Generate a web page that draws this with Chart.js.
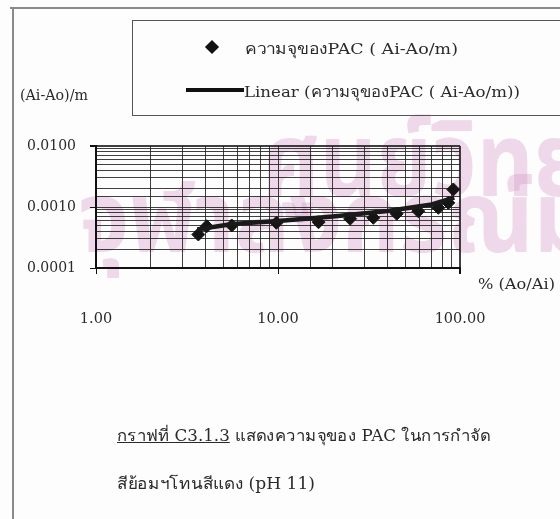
<!DOCTYPE html>
<html>
<head>
<meta charset="utf-8">
<script src="https://cdn.jsdelivr.net/npm/chart.js@4.4.1/dist/chart.umd.min.js"></script>
<style>
  html, body { margin: 0; padding: 0; background: #fdfdfd; }
  #page { position: relative; width: 560px; height: 519px; overflow: hidden; }
  #mark { position: absolute; left: 0; top: 0; width: 560px; height: 519px; z-index: 0;
          font-family: "Noto Sans Thai", "Loma", "Garuda", "Kinnari", "Norasi", sans-serif;
          color: rgba(214, 160, 205, 0.4); font-weight: bold; white-space: nowrap; }
  #mark div { position: absolute; transform-origin: left top; }
  canvas { position: absolute; left: 0; top: 0; z-index: 1; }
  .txt { position: absolute; z-index: 2; white-space: nowrap; color: #2a2a2a;
         font-family: "DejaVu Serif", "Norasi", "Kinnari", serif; transform-origin: left center; }
  #frameTop { position: absolute; left: 10px; top: 7px; width: 560px; height: 0; border-top: 2px solid #8a8a8a; z-index: 2; }
  #frameLeft { position: absolute; left: 12px; top: 7px; width: 0; height: 520px; border-left: 2px solid #8a8a8a; z-index: 2; }
  #legend { position: absolute; left: 132px; top: 20px; width: 440px; height: 94px;
            border: 1.5px solid #555; z-index: 2; background: transparent; }
  .diamond { position: absolute; width: 10px; height: 10px; background: #111; transform: rotate(45deg); }
  .lineKey { position: absolute; height: 4px; background: #111; }
</style>
</head>
<body>
<div id="page">
  <div id="mark">
    <div style="left:262px; top:86px; font-size:88px; transform: scale(1, 1.18);">ศูนย์วิทยทรัพยากร</div>
    <div style="left:78px; top:146px; font-size:92px; transform: scale(1, 1.08);">จุฬาลงกรณ์มหาวิทยาลัย</div>
  </div>
  <canvas id="chart" width="560" height="519"></canvas>
  <div id="frameTop"></div>
  <div id="frameLeft"></div>
  <div id="legend"></div>
  <div class="txt" id="yTitle" data-fit="68" style="left:20px; top:87px; font-size:14px;"></div>
  <div class="txt" id="xTitle" data-fit="77" style="left:478px; top:276px; font-size:14px;"></div>
  <div class="txt" data-fit="373" style="left:117px; top:423px; font-size:16px;">
    <span style="text-decoration: underline;">กราฟที่ C3.1.3</span> แสดงความจุของ PAC ในการกำจัด
  </div>
  <div class="txt" data-fit="198" style="left:117px; top:471px; font-size:16px;">สีย้อมฯโทนสีแดง (pH 11)</div>
</div>
<script>
// Percent removal (Ao/Ai) and adsorption capacity (Ai-Ao)/m
const removalPct = [3.65, 4.06, 5.57, 9.8, 16.7, 24.9, 33.4, 44.9, 59, 76, 86.3, 91.9];
const capacity   = [0.000354, 0.000484, 0.000498, 0.000551, 0.000564, 0.000641,
                    0.000665, 0.000774, 0.000853, 0.00097, 0.00117, 0.00194];

// Linear trend line of the capacity series
const trendPct      = [3.6, 5.6, 10, 20, 40, 70, 93];
const trendCapacity = [0.000428, 0.000526, 0.000589, 0.000698, 0.000859, 0.0011, 0.00143];

// Labelled decades on both axes
const xMajor = [1, 10, 100];
const xTickLabels = ['1.00', '10.00', '100.00'];
const yMajor = [0.0001, 0.001, 0.01];
const yTickLabels = ['0.0001', '0.0010', '0.0100'];

const seriesName = 'ความจุของPAC ( Ai-Ao/m)';
const trendName = 'Linear (ความจุของPAC ( Ai-Ao/m))';
const yAxisTitle = '(Ai-Ao)/m';
const xAxisTitle = '% (Ao/Ai)';

document.getElementById('yTitle').textContent = yAxisTitle;
document.getElementById('xTitle').textContent = xAxisTitle;

function majorIndex(list, v) {
  for (let i = 0; i < list.length; i++) {
    if (Math.abs(Math.log10(v) - Math.log10(list[i])) < 1e-6) return i;
  }
  return -1;
}

const gridColor = 'rgba(30,30,30,0.85)';

const chart = new Chart(document.getElementById('chart'), {
  type: 'scatter',
  data: {
    datasets: [
      {
        label: seriesName,
        data: removalPct.map((x, i) => ({ x: x, y: capacity[i] })),
        pointStyle: 'rectRot',
        pointRadius: 6.5,
        backgroundColor: '#151515',
        borderColor: '#151515',
        borderWidth: 1,
        order: 2
      },
      {
        label: trendName,
        type: 'line',
        data: trendPct.map((x, i) => ({ x: x, y: trendCapacity[i] })),
        showLine: true,
        pointRadius: 0,
        borderColor: '#1a1a1a',
        borderWidth: 4.5,
        tension: 0,
        order: 1
      }
    ]
  },
  options: {
    responsive: false,
    animation: false,
    devicePixelRatio: 1,
    layout: { padding: { top: 146, right: 100, left: 0, bottom: 0 } },
    plugins: { legend: { display: false }, tooltip: { enabled: false } },
    scales: {
      x: {
        type: 'logarithmic',
        min: 1,
        max: 100,
        afterFit: s => { s.height = 251; },
        border: { display: true, color: '#111', width: 2 },
        grid: {
          color: gridColor,
          lineWidth: ctx => (ctx.tick && ctx.tick.value === 100 ? 2 : 1),
          tickLength: 6,
          tickColor: ctx => (ctx.tick && majorIndex(xMajor, ctx.tick.value) >= 0 ? '#111' : 'rgba(0,0,0,0)')
        },
        ticks: {
          autoSkip: false,
          maxRotation: 0,
          padding: 37,
          color: '#2a2a2a',
          font: { family: '"DejaVu Serif", serif', size: 14.5 },
          callback: v => { const i = majorIndex(xMajor, v); return i >= 0 ? xTickLabels[i] : ''; }
        }
      },
      y: {
        type: 'logarithmic',
        min: 0.0001,
        max: 0.01,
        afterFit: s => { s.width = 96; },
        border: { display: true, color: '#111', width: 2 },
        grid: {
          color: gridColor,
          lineWidth: ctx => (ctx.tick && Math.abs(ctx.tick.value - 0.01) < 1e-9 ? 2 : 1),
          tickLength: 6,
          tickColor: ctx => (ctx.tick && majorIndex(yMajor, ctx.tick.value) >= 0 ? '#111' : 'rgba(0,0,0,0)')
        },
        ticks: {
          autoSkip: false,
          padding: 14,
          color: '#2a2a2a',
          font: { family: '"DejaVu Serif", serif', size: 14 },
          callback: v => { const i = majorIndex(yMajor, v); return i >= 0 ? yTickLabels[i] : ''; }
        }
      }
    }
  }
});

// Legend box built from the chart's own datasets
const legend = document.getElementById('legend');
chart.data.datasets.forEach((ds, i) => {
  const row = document.createElement('div');
  row.className = 'txt';
  row.style.fontSize = '15px';
  if (i === 0) {
    const key = document.createElement('div');
    key.className = 'diamond';
    key.style.left = '74px';
    key.style.top = '21px';
    legend.appendChild(key);
    row.style.left = '112px';
    row.style.top = '16px';
    row.dataset.fit = '213';
  } else {
    const key = document.createElement('div');
    key.className = 'lineKey';
    key.style.left = '53px';
    key.style.width = '58px';
    key.style.top = '67px';
    legend.appendChild(key);
    row.style.left = '111px';
    row.style.top = '59px';
    row.dataset.fit = '276';
  }
  row.textContent = ds.label;
  legend.appendChild(row);
});

// Stretch each text line horizontally to its target width
document.querySelectorAll('[data-fit]').forEach(el => {
  const w = el.getBoundingClientRect().width;
  const target = parseFloat(el.dataset.fit);
  if (w > 0) el.style.transform = 'scaleX(' + (target / w).toFixed(3) + ')';
});
</script>
</body>
</html>
